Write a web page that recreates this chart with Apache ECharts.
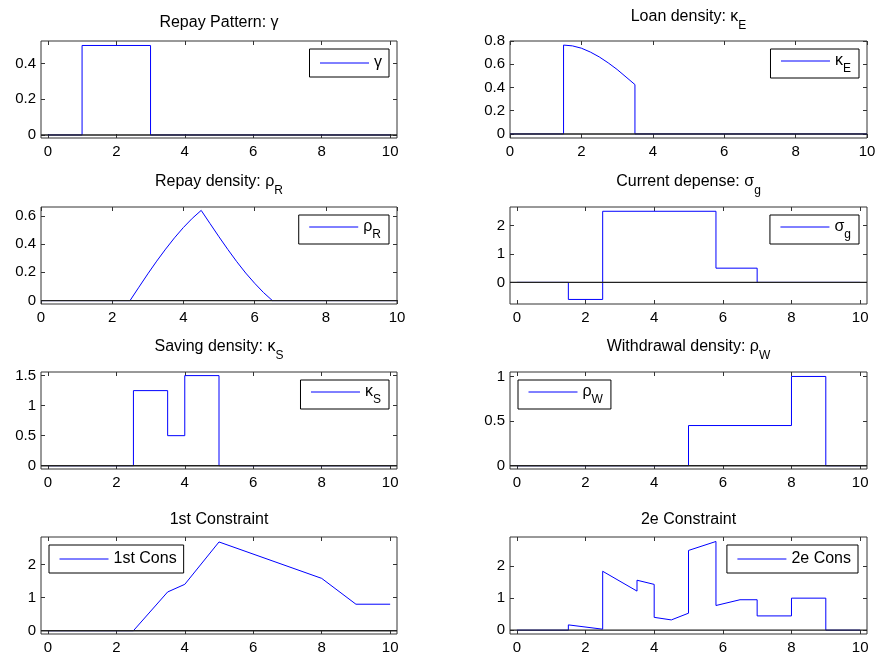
<!DOCTYPE html>
<html><head><meta charset="utf-8">
<script src="https://cdn.jsdelivr.net/npm/echarts@6/dist/echarts.min.js"></script>
<style>html,body{margin:0;padding:0;background:#fff}#c{width:882px;height:659px}</style>
</head><body><div id="c"></div>
<script>
// ---------- data ----------
const xTicks = [0, 2, 4, 6, 8, 10];

const gammaX = [0, 1, 1, 3, 3, 10];
const gammaY = [0, 0, 0.5, 0.5, 0, 0];
const gammaYTicks = [0, 0.2, 0.4];

const kappaEX = [0, 1.5, 1.5, 1.75, 2, 2.25, 2.5, 2.75, 3, 3.25, 3.5, 3.5, 10];
const kappaEY = [0, 0, 0.765, 0.758, 0.738, 0.705, 0.663, 0.612, 0.555, 0.49, 0.425, 0, 0];
const kappaEYTicks = [0, 0.2, 0.4, 0.6, 0.8];

const rhoRX = [0, 2.5, 2.75, 3, 3.25, 3.5, 3.75, 4, 4.25, 4.5, 4.75, 5, 5.25, 5.5, 5.75, 6, 6.25, 6.5, 10];
const rhoRY = [0, 0, 0.095, 0.189, 0.279, 0.364, 0.444, 0.517, 0.582, 0.638, 0.544, 0.451, 0.361, 0.275, 0.195, 0.123, 0.057, 0, 0];
const rhoRYTicks = [0, 0.2, 0.4, 0.6];

const sigmaGX = [0, 1.5, 1.5, 2.5, 2.5, 5.8, 5.8, 7, 7, 10];
const sigmaGY = [0, 0, -0.6, -0.6, 2.5, 2.5, 0.5, 0.5, 0, 0];
const sigmaGYTicks = [0, 1, 2];

const kappaSX = [0, 2.5, 2.5, 3.5, 3.5, 4, 4, 5, 5, 10];
const kappaSY = [0, 0, 1.25, 1.25, 0.5, 0.5, 1.5, 1.5, 0, 0];
const kappaSYTicks = [0, 0.5, 1, 1.5];

const rhoWX = [0, 5, 5, 8, 8, 9, 9, 10];
const rhoWY = [0, 0, 0.45, 0.45, 1, 1, 0, 0];
const rhoWYTicks = [0, 0.5, 1];

const cons1X = [0, 2.5, 3.5, 4, 5, 8, 9, 10];
const cons1Y = [0, 0, 1.17, 1.4, 2.68, 1.58, 0.8, 0.8];
const cons1YTicks = [0, 1, 2];

const cons2X = [0, 1.5, 1.5, 2.5, 2.5, 3.5, 3.5, 4, 4, 4.5, 5, 5, 5.8, 5.8, 6.5, 7, 7, 8, 8, 9, 9, 10];
const cons2Y = [0, 0, 0.165, 0.03, 1.84, 1.22, 1.56, 1.43, 0.4, 0.32, 0.53, 2.49, 2.77, 0.77, 0.95, 0.95, 0.445, 0.445, 1, 1, 0, 0];
const cons2YTicks = [0, 1, 2];

// ---------- panels (layout / labels) ----------
const FONT = 'Liberation Sans, Arial, Helvetica, sans-serif';
const panels = [
  {title:'{m|Repay Pattern: γ}', name:'γ', leg:'{m|γ}', xs:gammaX, ys:gammaY, yt:gammaYTicks, col:0, row:0, xr:[-0.2,10.2], yr:[-0.017,0.525], lp:{right:493}, sub:false, tTop:15},
  {title:'{m|Loan density: κ}{s|E}', name:'κE', leg:'{m|κ}{s|E}', xs:kappaEX, ys:kappaEY, yt:kappaEYTicks, col:1, row:0, xr:[0,10], yr:[-0.035,0.8], lp:{right:23}, sub:true, tTop:2},
  {title:'{m|Repay density: ρ}{s|R}', name:'ρR', leg:'{m|ρ}{s|R}', xs:rhoRX, ys:rhoRY, yt:rhoRYTicks, col:0, row:1, xr:[0,10], yr:[-0.024,0.662], lp:{right:493}, sub:true, tTop:167},
  {title:'{m|Current depense: σ}{s|g}', name:'σg', leg:'{m|σ}{s|g}', xs:sigmaGX, ys:sigmaGY, yt:sigmaGYTicks, col:1, row:1, xr:[-0.2,10.2], yr:[-0.76,2.65], lp:{right:23}, sub:true, tTop:167},
  {title:'{m|Saving density: κ}{s|S}', name:'κS', leg:'{m|κ}{s|S}', xs:kappaSX, ys:kappaSY, yt:kappaSYTicks, col:0, row:2, xr:[-0.2,10.2], yr:[-0.055,1.56], lp:{right:493}, sub:true, tTop:332},
  {title:'{m|Withdrawal density: ρ}{s|W}', name:'ρW', leg:'{m|ρ}{s|W}', xs:rhoWX, ys:rhoWY, yt:rhoWYTicks, col:1, row:2, xr:[-0.2,10.2], yr:[-0.037,1.05], lp:{left:518}, sub:true, tTop:332},
  {title:'{m|1st Constraint}', name:'1st Cons', leg:'{m|1st Cons}', xs:cons1X, ys:cons1Y, yt:cons1YTicks, col:0, row:3, xr:[-0.2,10.2], yr:[-0.1,2.83], lp:{left:49}, sub:false, tTop:512},
  {title:'{m|2e Constraint}', name:'2e Cons', leg:'{m|2e Cons}', xs:cons2X, ys:cons2Y, yt:cons2YTicks, col:1, row:3, xr:[-0.2,10.2], yr:[-0.12,2.91], lp:{right:24}, sub:false, tTop:512}
];
const colLeft = [41, 510], colWidth = [356, 357], colCenter = [219, 688.5];
const rowTop = [41, 207, 372, 537], gridH = 97;
const legTop = [49, 215, 380, 545];

const richTitle = {
  m: {fontSize: 16, fontFamily: FONT, color: '#000'},
  s: {fontSize: 12, fontFamily: FONT, color: '#000', padding: [18, 0, 0, 0]}
};
const richLeg = {
  m: {fontSize: 16, fontFamily: FONT, color: '#000'},
  s: {fontSize: 12, fontFamily: FONT, color: '#000', padding: [16, 0, 0, 0]}
};

const option = {animation: false, backgroundColor: '#fff',
  title: [], legend: [], grid: [], xAxis: [], yAxis: [], series: []};

panels.forEach((p, i) => {
  option.grid.push({left: colLeft[p.col], width: colWidth[p.col], top: rowTop[p.row], height: gridH,
    show: true, borderColor: '#333', borderWidth: 1, backgroundColor: 'transparent', outerBoundsMode: 'none', containLabel: false});
  option.title.push({text: p.title, left: colCenter[p.col], top: p.tTop, textAlign: 'center', padding: 0,
    textStyle: {rich: richTitle, fontSize: 16, fontFamily: FONT, fontWeight: 'normal', color: '#000'}});
  const leg = Object.assign({data: [p.name], top: legTop[p.row], orient: 'horizontal',
    borderColor: '#000', borderWidth: 1, borderRadius: 0, backgroundColor: '#fff',
    padding: p.sub ? [4, 8, 3, 10] : [6, 7, 6, 10], itemWidth: 49, itemHeight: 2,
    itemStyle: {color: 'rgba(0,0,0,0)', borderWidth: 0},
    lineStyle: {color: '#0000ff', width: 1, opacity: 1},
    formatter: () => p.leg, selectedMode: false,
    textStyle: {rich: richLeg, fontSize: 16, fontFamily: FONT, color: '#000'}}, p.lp);
  option.legend.push(leg);
  const tick = {show: true, inside: true, length: 4, lineStyle: {color: '#333', width: 1}};
  option.xAxis.push({gridIndex: i, type: 'value', position: 'bottom', min: p.xr[0], max: p.xr[1],
    axisLine: {show: false, onZero: false}, splitLine: {show: false},
    axisTick: Object.assign({customValues: xTicks}, tick),
    axisLabel: {customValues: xTicks, fontSize: 15, fontFamily: FONT, color: '#000', margin: 6}});
  option.xAxis.push({gridIndex: i, type: 'value', position: 'top', min: p.xr[0], max: p.xr[1],
    axisLine: {show: false, onZero: false}, splitLine: {show: false},
    axisTick: Object.assign({customValues: xTicks}, tick), axisLabel: {show: false}});
  option.yAxis.push({gridIndex: i, type: 'value', position: 'left', min: p.yr[0], max: p.yr[1],
    axisLine: {show: false, onZero: false}, splitLine: {show: false},
    axisTick: Object.assign({customValues: p.yt}, tick),
    axisLabel: {customValues: p.yt, fontSize: 15, fontFamily: FONT, color: '#000', margin: 5}});
  option.yAxis.push({gridIndex: i, type: 'value', position: 'right', min: p.yr[0], max: p.yr[1],
    axisLine: {show: false, onZero: false}, splitLine: {show: false},
    axisTick: Object.assign({customValues: p.yt}, tick), axisLabel: {show: false}});
  option.series.push({type: 'line', name: p.name, xAxisIndex: 2 * i, yAxisIndex: 2 * i,
    data: p.xs.map((x, k) => [x, p.ys[k]]), symbol: 'none', showSymbol: false,
    lineStyle: {color: '#0000ff', width: 1}, itemStyle: {color: '#0000ff'}});
  // zero reference line across the full axis range, drawn above the data line
  option.series.push({type: 'line', name: 'zero' + i, xAxisIndex: 2 * i, yAxisIndex: 2 * i,
    data: [[p.xr[0], 0], [p.xr[1], 0]], symbol: 'none', showSymbol: false, z: 5, silent: true,
    lineStyle: {color: '#222222', width: 1.4}, itemStyle: {color: '#222222'}});
});

const chart = echarts.init(document.getElementById('c'), null, {renderer: 'canvas'});
chart.setOption(option);
</script></body></html>
